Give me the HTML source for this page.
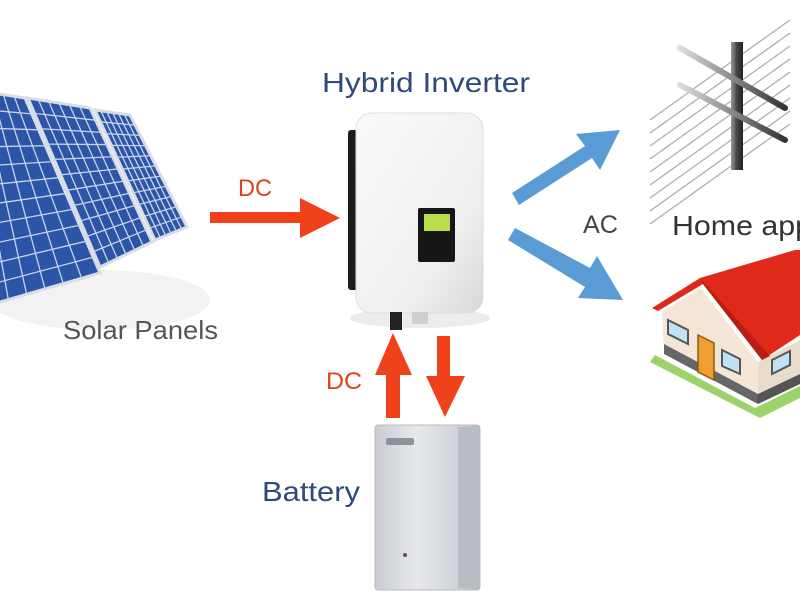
<!DOCTYPE html>
<html><head><meta charset="utf-8"><style>
html,body{margin:0;padding:0;background:#fff;}
svg{display:block;}
text{font-family:"Liberation Sans","DejaVu Sans",sans-serif;}
</style></head><body>
<svg id="s" width="800" height="600" viewBox="0 0 800 600" xmlns="http://www.w3.org/2000/svg">
<defs>
<linearGradient id="inv" x1="0" y1="0" x2="1" y2="1"><stop offset="0" stop-color="#fafafa"/><stop offset="0.7" stop-color="#eeeeee"/><stop offset="1" stop-color="#d8d8d8"/></linearGradient>
<linearGradient id="bat" x1="0" y1="0" x2="1" y2="0"><stop offset="0" stop-color="#c9ccd2"/><stop offset="0.4" stop-color="#e6e8ec"/><stop offset="0.8" stop-color="#cfd2d8"/><stop offset="1" stop-color="#b4b8bf"/></linearGradient>
<linearGradient id="pole" x1="0" y1="0" x2="1" y2="0"><stop offset="0" stop-color="#999"/><stop offset="0.5" stop-color="#444"/><stop offset="1" stop-color="#222"/></linearGradient>
<linearGradient id="arm" x1="0" y1="0" x2="1" y2="0"><stop offset="0" stop-color="#ddd"/><stop offset="1" stop-color="#333"/></linearGradient>
</defs>
<rect width="800" height="600" fill="#fff"/>
<ellipse cx="100" cy="300" rx="110" ry="30" fill="#f2f2f2"/>
<g id="panels"></g>
<text x="63" y="339" font-size="26" fill="#555" textLength="155" lengthAdjust="spacingAndGlyphs">Solar Panels</text>
<text x="322" y="92" font-size="28" fill="#2e4a78" textLength="208" lengthAdjust="spacingAndGlyphs">Hybrid Inverter</text>
<!-- DC right arrow -->
<text x="238" y="196" font-size="24" fill="#d9451c" textLength="34" lengthAdjust="spacingAndGlyphs">DC</text>
<polygon points="210,212 300,212 300,198 340,218 300,238 300,223 210,223" fill="#f0421a"/>
<!-- inverter -->
<ellipse cx="420" cy="318" rx="70" ry="10" fill="#ececec"/>
<rect x="348" y="130" width="18" height="160" rx="3" fill="#1c1c1c"/>
<rect x="356" y="113" width="127" height="200" rx="16" fill="url(#inv)" stroke="#ddd"/>
<rect x="418" y="208" width="37" height="54" rx="2" fill="#161616"/>
<rect x="424" y="214" width="26" height="17" fill="#b9dd4a"/>
<rect x="390" y="312" width="12" height="18" fill="#222"/>
<rect x="412" y="312" width="16" height="12" fill="#cfcfcf"/>
<!-- vertical arrows -->
<text x="326" y="389" font-size="24" fill="#d9451c" textLength="36" lengthAdjust="spacingAndGlyphs">DC</text>
<polygon points="393,333 412,375 400,375 400,418 386,418 386,375 375,375" fill="#f0421a"/>
<polygon points="437,336 450,336 450,376 465,376 445,417 426,376 437,376" fill="#f0421a"/>
<!-- battery -->
<rect x="375" y="425" width="105" height="165" rx="3" fill="url(#bat)" stroke="#bbb"/>
<rect x="458" y="427" width="20" height="161" fill="#b8bcc3"/>
<rect x="386" y="438" width="28" height="7" rx="2" fill="#8e9299"/>
<circle cx="405" cy="555" r="2" fill="#555"/>
<text x="262" y="501" font-size="28" fill="#2e4a78" textLength="98" lengthAdjust="spacingAndGlyphs">Battery</text>
<!-- blue arrows -->
<g fill="#5b9bd5">
<polygon points="512,193 585,146 576,134 620,130 600,170 592,158 519,205"/>
<polygon points="508,240 515,228 590,268 597,256 623,300 578,298 585,287"/>
</g>
<text x="583" y="233" font-size="25" fill="#444" textLength="35" lengthAdjust="spacingAndGlyphs">AC</text>
<text x="672" y="235" font-size="28" fill="#333" textLength="140" lengthAdjust="spacingAndGlyphs">Home app</text>
<!-- pole -->
<g stroke="#aaa" stroke-width="1.2" id="wires"></g>
<rect x="731" y="42" width="12" height="128" fill="url(#pole)"/>
<line x1="680" y1="48" x2="785" y2="108" stroke="url(#arm)" stroke-width="6" stroke-linecap="round"/>
<line x1="680" y1="85" x2="785" y2="140" stroke="url(#arm)" stroke-width="6" stroke-linecap="round"/>
<!-- house -->
<polygon points="655,355 755,408 800,386 800,398 760,418 650,362" fill="#9bd36a"/>
<polygon points="662,312 701,288 758,362 758,402 664,352" fill="#f3e6d6"/>
<polygon points="758,362 800,340 800,384 758,404" fill="#eadccb"/>
<polygon points="664,344 758,394 758,404 664,354" fill="#666"/>
<polygon points="758,394 800,374 800,384 758,404" fill="#555"/>
<polygon points="652,308 700,278 795,250 800,250 800,335 762,360 703,284 658,311" fill="#df2a1a"/>
<polygon points="700,278 703,284 762,360 770,356" fill="#b81e12"/>
<polygon points="668,320 688,330 688,344 668,334" fill="#bfe3f5" stroke="#555" stroke-width="2"/>
<polygon points="698,335 714,343 714,380 698,372" fill="#f0a030" stroke="#8a5a10" stroke-width="1.5"/>
<polygon points="722,350 740,359 740,374 722,366" fill="#bfe3f5" stroke="#555" stroke-width="2"/>
<polygon points="772,360 790,351 790,365 772,374" fill="#bfe3f5" stroke="#555" stroke-width="2"/>
</svg>
<script>
(function(){
var NS="http://www.w3.org/2000/svg";
var g=document.getElementById("panels");
function L(a,b,t){return [a[0]+(b[0]-a[0])*t,a[1]+(b[1]-a[1])*t];}
function panel(tl,tr,br,bl,cols,rows){
 var p=document.createElementNS(NS,"polygon");
 p.setAttribute("points",[tl,tr,br,bl].map(function(q){return q.join(",")}).join(" "));
 p.setAttribute("fill","#2c55a8");p.setAttribute("stroke","#d8dde6");p.setAttribute("stroke-width","3");g.appendChild(p);
 for(var i=1;i<cols;i++){var a=L(tl,tr,i/cols),b=L(bl,br,i/cols);ln(a,b);}
 for(var j=1;j<rows;j++){var a=L(tl,bl,j/rows),b=L(tr,br,j/rows);ln(a,b);}
}
function ln(a,b){var l=document.createElementNS(NS,"line");l.setAttribute("x1",a[0]);l.setAttribute("y1",a[1]);l.setAttribute("x2",b[0]);l.setAttribute("y2",b[1]);l.setAttribute("stroke","#c8d4ea");l.setAttribute("stroke-width","1.3");g.appendChild(l);}
panel([-40,88],[25,98],[100,273],[-10,305],6,11);
panel([28,98],[90,108],[152,242],[100,267],6,11);
panel([95,110],[130,115],[187,227],[155,240],6,11);
var w=document.getElementById("wires");
for(var k=0;k<9;k++){var l=document.createElementNS(NS,"line");var y=95+k*13;l.setAttribute("x1",650);l.setAttribute("y1",y+25);l.setAttribute("x2",790);l.setAttribute("y2",y-75);w.appendChild(l);}
})();
</script>
</body></html>
